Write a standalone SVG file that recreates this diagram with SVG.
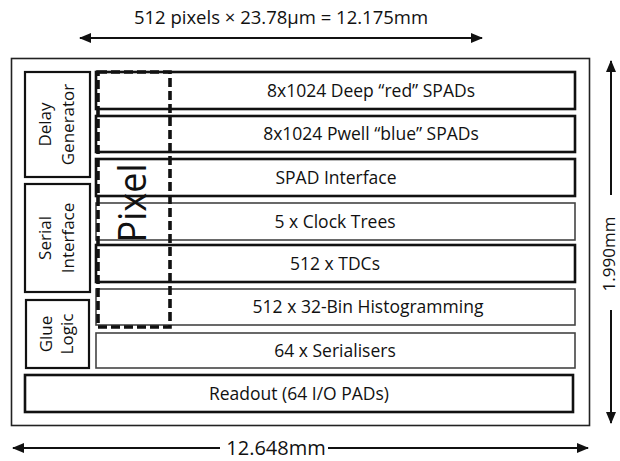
<svg xmlns="http://www.w3.org/2000/svg" width="620" height="461" viewBox="0 0 620 461">
<defs>
<style>
text{font-family:"Open Sans","Liberation Sans",sans-serif;fill:#111}
.lbl{font-size:17.5px}
.slbl{font-size:17px}
.thick{fill:#fff;stroke:#111;stroke-width:2.6}
.thin{fill:#fff;stroke:#444;stroke-width:1.6}
.side{fill:#fff;stroke:#111;stroke-width:2.2}
.dim{stroke:#111;stroke-width:2;fill:none}
</style>
<marker id="ah" markerWidth="12" markerHeight="10" refX="11" refY="5" orient="auto-start-reverse" markerUnits="userSpaceOnUse">
<path d="M0,0 L12,5 L0,10 Z" fill="#111"/>
</marker>
</defs>
<rect width="620" height="461" fill="#fff"/>

<g id="chip">
<rect x="11.5" y="58.5" width="578" height="367" fill="#fff" stroke="#222" stroke-width="1.6"/>
</g>

<g id="delay-generator">
<rect class="side" x="25" y="72" width="65" height="105"/>
<text class="slbl" transform="translate(51,124.5) rotate(-90)" text-anchor="middle">Delay</text>
<text class="slbl" transform="translate(74,124.5) rotate(-90)" text-anchor="middle">Generator</text>
</g>
<g id="serial-interface">
<rect class="side" x="25" y="184" width="65" height="108"/>
<text class="slbl" transform="translate(51,238) rotate(-90)" text-anchor="middle">Serial</text>
<text class="slbl" transform="translate(74,238) rotate(-90)" text-anchor="middle">Interface</text>
</g>
<g id="glue-logic">
<rect class="side" x="26" y="300" width="63" height="68"/>
<text class="slbl" transform="translate(52,334) rotate(-90)" text-anchor="middle">Glue</text>
<text class="slbl" transform="translate(73,334) rotate(-90)" text-anchor="middle">Logic</text>
</g>

<g id="row-red-spads">
<rect class="thick" x="96" y="72" width="479" height="37"/>
<text class="lbl" x="371" y="96.5" text-anchor="middle">8x1024 Deep “red” SPADs</text>
</g>
<g id="row-blue-spads">
<rect class="thick" x="96" y="116" width="479" height="36"/>
<text class="lbl" x="371" y="140" text-anchor="middle">8x1024 Pwell “blue” SPADs</text>
</g>
<g id="row-spad-interface">
<rect class="thick" x="96" y="159" width="479" height="37"/>
<text class="lbl" x="336" y="183.5" text-anchor="middle">SPAD Interface</text>
</g>
<g id="row-clock-trees">
<rect class="thin" x="96" y="203" width="479" height="37"/>
<text class="lbl" x="335" y="227.5" text-anchor="middle">5 x Clock Trees</text>
</g>
<g id="row-tdcs">
<rect class="thick" x="96" y="245" width="479" height="37"/>
<text class="lbl" x="335" y="269.5" text-anchor="middle">512 x TDCs</text>
</g>
<g id="row-histogramming">
<rect class="thin" x="96" y="289" width="479" height="36"/>
<text class="lbl" x="368" y="313" text-anchor="middle">512 x 32-Bin Histogramming</text>
</g>
<g id="row-serialisers">
<rect class="thin" x="96" y="333" width="479" height="35"/>
<text class="lbl" x="335" y="356.5" text-anchor="middle">64 x Serialisers</text>
</g>
<g id="readout">
<rect class="thick" x="25" y="375" width="548" height="37"/>
<text class="lbl" x="299" y="399.5" text-anchor="middle">Readout (64 I/O PADs)</text>
</g>

<g id="pixel">
<rect x="98" y="72" width="72" height="255" fill="none" stroke="#111" stroke-width="3.6" stroke-dasharray="9 4"/>
<text transform="translate(145.5,203) rotate(-90)" text-anchor="middle" font-size="38" textLength="79" lengthAdjust="spacingAndGlyphs">Pixel</text>
</g>

<g id="connectors">
<line class="dim" x1="80" y1="38" x2="482" y2="38" marker-start="url(#ah)" marker-end="url(#ah)"/>
<line class="dim" x1="13" y1="448" x2="220" y2="448" marker-start="url(#ah)"/>
<line class="dim" x1="328" y1="448" x2="588" y2="448" marker-end="url(#ah)"/>
<line class="dim" x1="611" y1="195" x2="611" y2="61" marker-end="url(#ah)"/>
<line class="dim" x1="611" y1="310" x2="611" y2="423" marker-end="url(#ah)"/>
</g>

<g id="dimension-labels">
<text x="281" y="24" text-anchor="middle" font-size="18.5">512 pixels × 23.78µm = 12.175mm</text>
<text x="276" y="455" text-anchor="middle" font-size="20">12.648mm</text>
<text transform="translate(615,254) rotate(-90)" text-anchor="middle" font-size="17">1.990mm</text>
</g>
</svg>
